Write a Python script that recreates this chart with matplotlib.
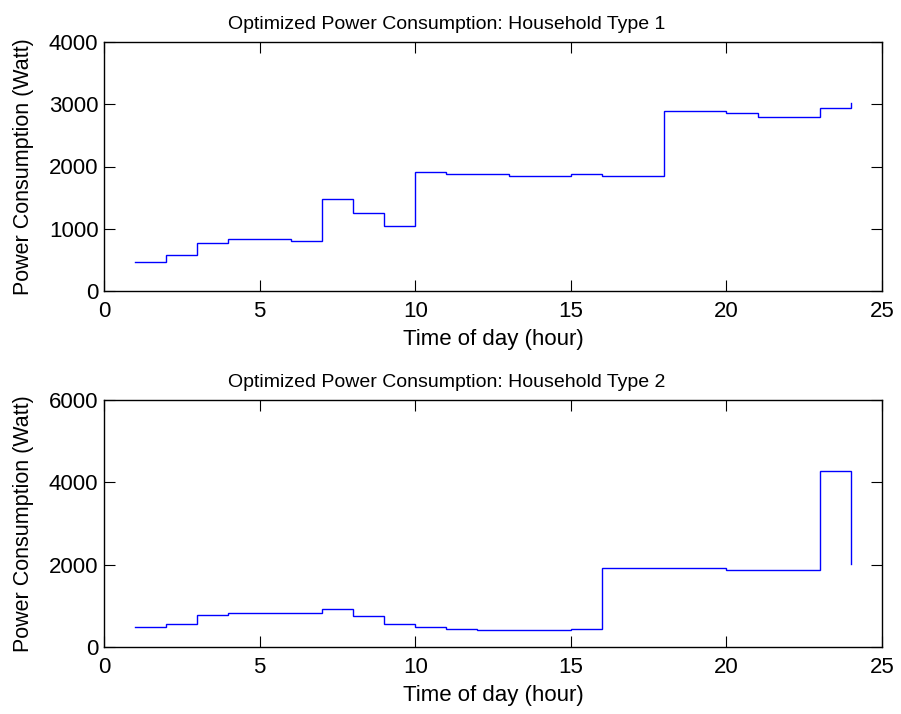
import matplotlib
matplotlib.use("Agg")
import matplotlib.pyplot as plt
import numpy as np

plt.rcParams['font.family'] = ['Liberation Sans', 'DejaVu Sans']

# hour of day (MATLAB stairs style, step starts at each hour)
hours = np.arange(1, 25)

# household type 1, watts
power_type1 = [462, 586, 779, 843, 843, 811, 1476, 1246, 1041, 1906,
               1874, 1874, 1847, 1847, 1879, 1847, 1847, 2889, 2889, 2857,
               2802, 2802, 2947, 3027]

# household type 2, watts
power_type2 = [485, 566, 784, 833, 833, 833, 922, 743, 566, 485,
               437, 403, 403, 403, 437, 1917, 1917, 1917, 1917, 1876,
               1876, 1876, 4279, 2022]

titles = ["Optimized Power Consumption: Household Type 1",
          "Optimized Power Consumption: Household Type 2"]
ylims = [(0, 4000), (0, 6000)]
yticks = [[0, 1000, 2000, 3000, 4000], [0, 2000, 4000, 6000]]
xticks = [0, 5, 10, 15, 20, 25]

fig = plt.figure(figsize=(9.01, 7.14), dpi=100)
W, H = 901, 714
# axes boxes in pixels: left, top, right, bottom
boxes = [(104, 42, 882, 291), (104, 400, 882, 647)]


def draw_stairs(ax, x, y):
	# MATLAB stairs: horizontal segment from x[i] to x[i+1], last point just a vertex
	xs = np.repeat(x, 2)[1:]
	ys = np.repeat(y, 2)[:-1]
	ax.plot(xs, ys, color=(0, 0, 1), lw=1.0, solid_joinstyle='miter')


for i, data in enumerate([power_type1, power_type2]):
	l, t, r, b = boxes[i]
	ax = fig.add_axes([l / W, 1 - b / H, (r - l) / W, (b - t) / H])
	draw_stairs(ax, hours, np.array(data))
	ax.set_xlim(0, 25)
	ax.set_ylim(*ylims[i])
	ax.set_xticks(xticks)
	ax.set_yticks(yticks[i])
	ax.tick_params(direction='in', top=True, right=True, length=8,
				   width=0.8, labelsize=16)
	ax.tick_params(axis='x', pad=7)
	ax.tick_params(axis='y', pad=4)
	for s in ax.spines.values():
		s.set_linewidth(1.0)
	ax.set_title(titles[i], fontsize=14, pad=9.5, x=0.441)
	ax.set_xlabel("Time of day (hour)", fontsize=16, labelpad=5)
	ax.set_ylabel("Power Consumption (Watt)", fontsize=15.5, labelpad=11)

fig.savefig("out.png", dpi=100)
